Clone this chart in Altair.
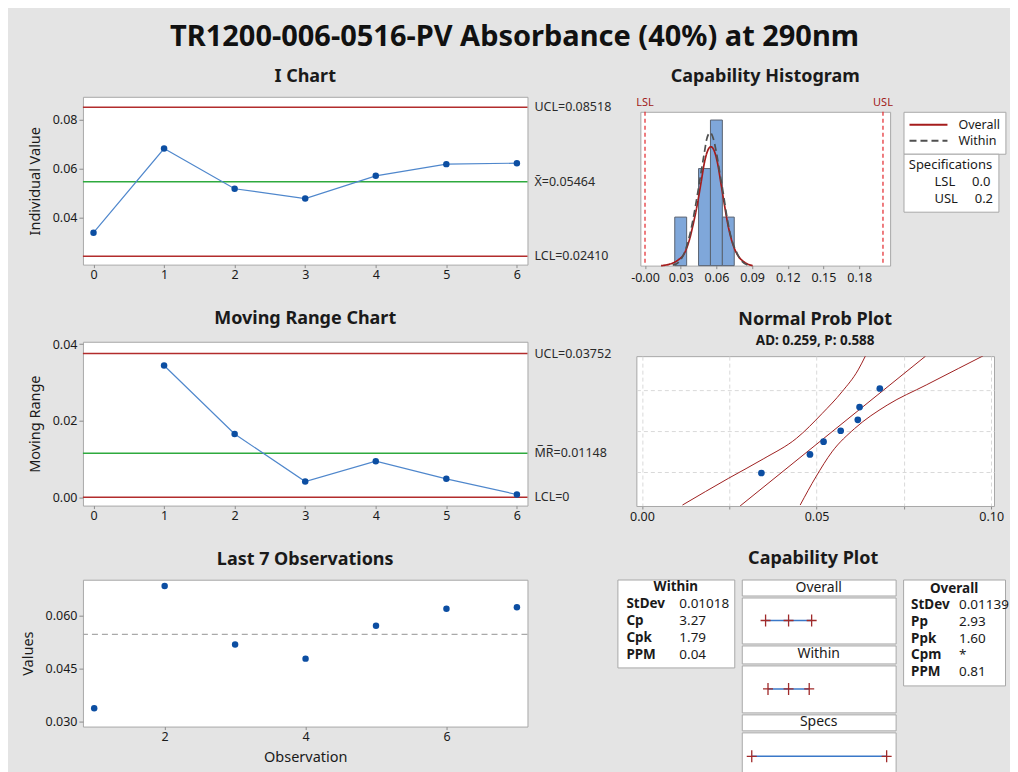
import altair as alt
import pandas as pd

FONT = "Noto Sans"
BG = "#e4e4e4"
TXT = "#1a1a1a"
PT_BLUE = "#0c4ea2"
LN_BLUE = "#4f87cc"
RED = "#b22c2c"
GREEN = "#2eaa3e"
BORDER = "#a8a8a8"
NB = "\u00a0"

main_title = "TR1200-006-0516-PV Absorbance (40%) at 290nm"

# ---------------- data ----------------
obs_index = [0, 1, 2, 3, 4, 5, 6]
obs_number = [1, 2, 3, 4, 5, 6, 7]
obs_values = [0.0338, 0.0683, 0.0518, 0.0478, 0.0571, 0.0619, 0.0623]

mr_index = [1, 2, 3, 4, 5, 6]
mr_values = [0.0344, 0.0165, 0.0041, 0.0094, 0.0048, 0.0007]

i_limit_names = ["UCL", "CL", "LCL"]
i_limit_values = [0.08518, 0.05464, 0.02410]
i_limit_labels = ["UCL=0.08518", "X\u0304=0.05464", "LCL=0.02410"]
mr_limit_values = [0.03752, 0.01148, 0.0]
mr_limit_labels = ["UCL=0.03752", "M\u0305R\u0305=0.01148", "LCL=0"]
obs_mean = 0.05464

bin_start = [0.025, 0.045, 0.055, 0.065]
bin_end = [0.035, 0.055, 0.065, 0.075]
bin_count = [1, 2, 3, 1]
hist_ticks = [0.0, 0.03, 0.06, 0.09, 0.12, 0.15, 0.18]

overall_x = [0.0135, 0.0206, 0.0275, 0.0332, 0.0374, 0.0401, 0.0437, 0.0471, 0.0499, 0.0527,
             0.0553, 0.0581, 0.0609, 0.0637, 0.0667, 0.0697, 0.0737, 0.0783, 0.0830, 0.0905]
overall_y = [0.0, 0.03, 0.11, 0.26, 0.54, 0.81, 1.23, 1.71, 2.12, 2.37,
             2.45, 2.37, 2.12, 1.71, 1.26, 0.84, 0.45, 0.20, 0.08, 0.0]
within_x = [0.0233, 0.0290, 0.0345, 0.0387, 0.0443, 0.0471, 0.0499, 0.0519, 0.0547,
            0.0575, 0.0600, 0.0628, 0.0657, 0.0690, 0.0727, 0.0765, 0.0807, 0.0863]
within_y = [0.01, 0.09, 0.36, 0.75, 1.50, 1.92, 2.33, 2.61, 2.74,
            2.61, 2.33, 1.92, 1.50, 0.98, 0.55, 0.30, 0.11, 0.01]

spec_names = ["LSL", "USL"]
spec_values = [0.0, 0.2]

npp_x = [0.0342, 0.0481, 0.0520, 0.0569, 0.0618, 0.0623, 0.0681]
npp_z = [-1.31, -0.73, -0.33, 0.01, 0.35, 0.75, 1.33]
npp_grid_z = [-1.2816, 0.0, 1.2816]
upper_x = [0.0116, 0.0247, 0.0349, 0.0442, 0.0516, 0.0573, 0.0619, 0.0640]
upper_z = [-2.31, -1.48, -0.86, -0.23, 0.55, 1.23, 1.91, 2.35]
fit_x = [0.0281, 0.0812]
fit_z = [-2.34, 2.34]
lower_x = [0.0453, 0.0498, 0.0544, 0.0609, 0.0702, 0.0814, 0.0907, 0.0977]
lower_z = [-2.31, -1.43, -0.65, 0.08, 0.81, 1.44, 1.96, 2.35]

within_stat_names = ["StDev", "Cp", "Cpk", "PPM"]
within_stat_values = ["0.01018", "3.27", "1.79", "0.04"]
overall_stat_names = ["StDev", "Pp", "Ppk", "Cpm", "PPM"]
overall_stat_values = ["0.01139", "2.93", "1.60", "*", "0.81"]

cap_panels = ["Overall", "Within", "Specs"]
cap_lo = [0.0205, 0.0241, 0.0]
cap_mid = [0.0546, 0.0546, None]
cap_hi = [0.0888, 0.0852, 0.2]

# ---------------- helpers ----------------
def title(text, offset, size=18):
    return alt.TitleParams(text, fontSize=size, fontWeight="bold", anchor="middle",
                           frame="group", offset=offset, font=FONT, color=TXT)


def limit_layers(values, labels, width):
    df = pd.DataFrame({"name": i_limit_names, "value": values, "label": labels})
    reds = alt.Chart(df[df["name"] != "CL"]).mark_rule(color=RED, strokeWidth=1.5).encode(y="value:Q")
    green = alt.Chart(df[df["name"] == "CL"]).mark_rule(color=GREEN, strokeWidth=1.5).encode(y="value:Q")
    text = alt.Chart(df).mark_text(align="left", baseline="middle", fontSize=12.5, color="#2a2a2a").encode(
        y="value:Q", x=alt.value(width + 7), text="label:N")
    return [reds, green, text]


def indep(c):
    return c.resolve_scale(color="independent", strokeDash="independent", opacity="independent").resolve_legend(
        color="independent", strokeDash="independent", opacity="independent")


def spacer(w, h):
    # empty layout cell (no marks drawn)
    return alt.Chart(pd.DataFrame({"s": [""]})).mark_text().encode(text="s:N").properties(
        width=w, height=h, view=alt.ViewBackground(stroke="transparent", fill="transparent"))


LW = 445

# ---------------- I chart ----------------
i_df = pd.DataFrame({"x": obs_index, "y": obs_values})
ix = alt.X("x:Q", scale=alt.Scale(domain=[-0.15, 6.15], nice=False, zero=False),
           axis=alt.Axis(values=obs_index, format="d", title=None))
iy = alt.Y("y:Q", scale=alt.Scale(domain=[0.0207, 0.0895], nice=False, zero=False),
           axis=alt.Axis(values=[0.04, 0.06, 0.08], format=".2f", title="Individual Value",
                         titlePadding=10, tickSize=4, labelPadding=2))
i_line = alt.Chart(i_df).mark_line(color=LN_BLUE, strokeWidth=1.2).encode(ix, iy)
i_pts = alt.Chart(i_df).mark_circle(color=PT_BLUE, size=42, opacity=1).encode(x="x:Q", y="y:Q")
i_chart = alt.layer(*limit_layers(i_limit_values, i_limit_labels, LW), i_line, i_pts).properties(
    width=LW, height=168, title=title("I Chart", 10.7))

# ---------------- MR chart ----------------
mr_df = pd.DataFrame({"x": mr_index, "y": mr_values})
mx = alt.X("x:Q", scale=alt.Scale(domain=[-0.15, 6.15], nice=False, zero=False),
           axis=alt.Axis(values=obs_index, format="d", title=None))
my = alt.Y("y:Q", scale=alt.Scale(domain=[-0.0022, 0.0406], nice=False, zero=False),
           axis=alt.Axis(values=[0.0, 0.02, 0.04], format=".2f", title="Moving Range",
                         titlePadding=10, tickSize=4, labelPadding=2))
mr_line = alt.Chart(mr_df).mark_line(color=LN_BLUE, strokeWidth=1.2).encode(mx, my)
mr_pts = alt.Chart(mr_df).mark_circle(color=PT_BLUE, size=42, opacity=1).encode(x="x:Q", y="y:Q")
mr_chart = alt.layer(*limit_layers(mr_limit_values, mr_limit_labels, LW), mr_line, mr_pts).properties(
    width=LW, height=164, title=title("Moving Range Chart", 9.6))

# ---------------- Last 7 observations ----------------
l7_df = pd.DataFrame({"x": obs_number, "y": obs_values})
lx = alt.X("x:Q", scale=alt.Scale(domain=[0.84, 7.15], nice=False, zero=False),
           axis=alt.Axis(values=[2, 4, 6], format="d", title="Observation", titleFontSize=14.5, titlePadding=7))
ly = alt.Y("y:Q", scale=alt.Scale(domain=[0.0286, 0.0701], nice=False, zero=False),
           axis=alt.Axis(values=[0.03, 0.045, 0.06], format=".3f", title="Values",
                         titlePadding=10, tickSize=4, labelPadding=2))
l7_pts = alt.Chart(l7_df).mark_circle(color=PT_BLUE, size=42, opacity=1).encode(lx, ly)
l7_mean = alt.Chart(pd.DataFrame({"y": [obs_mean]})).mark_rule(
    color="#a9a9a9", strokeDash=[6, 4], strokeWidth=1.3).encode(y="y:Q")
l7_chart = alt.layer(l7_mean, l7_pts).properties(width=LW, height=147, title=title("Last 7 Observations", 10.5))

# ---------------- Capability histogram ----------------
hist_df = pd.DataFrame({"x": bin_start, "x2": bin_end, "y": bin_count})
hx = alt.X("x:Q", scale=alt.Scale(domain=[-0.0039, 0.2060], nice=False, zero=False),
           axis=alt.Axis(values=hist_ticks, title=None, labelPadding=3,
                         labelExpr="datum.value == 0 ? '-0.00' : format(datum.value, '.2f')"))
hy = alt.Y("y:Q", scale=alt.Scale(domain=[0, 3.17], nice=False, zero=False), axis=None)
bars = alt.Chart(hist_df).mark_rect(fill="#7fa7da", stroke="#596270", strokeWidth=1).encode(
    hx, hy, x2="x2:Q", y2=alt.datum(0))

curve_df = pd.concat([
    pd.DataFrame({"x": overall_x, "y": overall_y, "curve": "Overall"}),
    pd.DataFrame({"x": within_x, "y": within_y, "curve": "Within"}),
])
curve_legend = alt.Legend(title=None, orient="none", legendX=263.4, legendY=0,
                          fillColor="white", strokeColor=BORDER, padding=5, cornerRadius=0,
                          symbolType="stroke", symbolSize=1444, symbolStrokeWidth=2,
                          labelFontSize=12.5, labelFont=FONT, labelColor=TXT, labelOffset=10,
                          rowPadding=0, clipHeight=16)
curves = alt.Chart(curve_df).mark_line(strokeWidth=1.7, interpolate="monotone").encode(
    x="x:Q", y="y:Q",
    color=alt.Color("curve:N", scale=alt.Scale(domain=["Overall", "Within"], range=["#a51c1c", "#505050"]),
                    legend=curve_legend),
    strokeDash=alt.StrokeDash("curve:N", scale=alt.Scale(domain=["Overall", "Within"], range=[[1, 0], [7, 4]]),
                              legend=curve_legend),
)

spec_df = pd.DataFrame({"x": spec_values, "name": spec_names,
                        "label": [f"{n}{NB * 5}{v:.1f}" for n, v in zip(spec_names, spec_values)]})
spec_legend = alt.Legend(title="Specifications", orient="none", legendX=263.4, legendY=42,
                         fillColor="white", strokeColor=BORDER, padding=5, cornerRadius=0,
                         titleFontSize=13, titleFontWeight="normal", titleFont=FONT, titleColor=TXT,
                         titleAnchor="middle", titlePadding=4,
                         labelFontSize=13, labelFont=FONT, labelColor=TXT, labelOffset=13,
                         symbolSize=0, symbolStrokeWidth=0, symbolOpacity=0, rowPadding=3)
spec_rules = alt.Chart(spec_df).mark_rule(color="#e3262b", strokeDash=[4, 3], strokeWidth=1.2).encode(
    x="x:Q",
    opacity=alt.Opacity("label:N", scale=alt.Scale(domain=list(spec_df["label"]), range=[1, 1]),
                        legend=spec_legend))
spec_text = alt.Chart(spec_df).mark_text(color="#a01818", fontSize=11, dy=-9).encode(
    x="x:Q", y=alt.datum(3.17), text="name:N")

hist_chart = alt.layer(bars, curves, spec_rules, spec_text).properties(
    width=250, height=154, title=title("Capability Histogram", 10.8))

# ---------------- Normal probability plot ----------------
nx = alt.X("x:Q", scale=alt.Scale(domain=[-0.0016, 0.1008], nice=False, zero=False),
           axis=alt.Axis(values=[0.0, 0.025, 0.05, 0.075, 0.1], title=None, grid=True, labelPadding=1.6,
                         gridDash=[4, 3], gridColor="#d9d9d9",
                         labelExpr="indexof(['0.00','0.05','0.10'], format(datum.value,'.2f')) >= 0 ? format(datum.value,'.2f') : ''"))
ny = alt.Y("z:Q", scale=alt.Scale(domain=[-2.34, 2.34], nice=False, zero=False),
           axis=alt.Axis(values=npp_grid_z, labels=False, ticks=False, grid=True, title=None,
                         gridDash=[4, 3], gridColor="#d9d9d9"))
band_df = pd.concat([
    pd.DataFrame({"x": upper_x, "z": upper_z, "line": "upper"}),
    pd.DataFrame({"x": fit_x, "z": fit_z, "line": "fit"}),
    pd.DataFrame({"x": lower_x, "z": lower_z, "line": "lower"}),
])
npp_lines = alt.Chart(band_df).mark_line(color="#9e2020", strokeWidth=1, interpolate="monotone", clip=True).encode(
    nx, ny, detail="line:N")
npp_pts = alt.Chart(pd.DataFrame({"x": npp_x, "z": npp_z})).mark_circle(
    color=PT_BLUE, size=45, opacity=1).encode(x="x:Q", y="z:Q")
npp_chart = alt.layer(npp_lines, npp_pts).properties(
    width=358, height=150,
    title=alt.TitleParams("Normal Prob Plot", subtitle="AD: 0.259, P: 0.588", fontSize=18, fontWeight="bold",
                          subtitleFontSize=13.5, subtitleFontWeight="bold", subtitleColor=TXT,
                          subtitlePadding=4.2, anchor="middle", frame="group", offset=9.1, font=FONT,
                          subtitleFont=FONT, color=TXT))

# ---------------- Capability plot ----------------
def stats_box(header, names, vals, width, height, y_domain, cols):
    n = len(names)
    rows = list(range(1, n + 1))
    ys = alt.Y("row:Q", scale=alt.Scale(domain=y_domain, reverse=True, nice=False, zero=False), axis=None)
    xs = alt.X("col:N", scale=alt.Scale(domain=["name", "value"], range=cols, padding=0), axis=None)
    hdr = alt.Chart(pd.DataFrame({"row": [0], "text": [header]})).mark_text(
        fontSize=13.5, fontWeight="bold", color=TXT).encode(y=ys, text="text:N")
    nm = alt.Chart(pd.DataFrame({"row": rows, "col": ["name"] * n, "text": names})).mark_text(
        align="left", fontSize=13.5, fontWeight="bold", color=TXT).encode(x=xs, y="row:Q", text="text:N")
    vl = alt.Chart(pd.DataFrame({"row": rows, "col": ["value"] * n, "text": vals})).mark_text(
        align="left", fontSize=13.5, color=TXT).encode(x="col:N", y="row:Q", text="text:N")
    return alt.layer(hdr, nm, vl).properties(width=width, height=height)


within_box = stats_box("Within", within_stat_names, within_stat_values, 117, 88, [-0.47, 4.77], [9, 62])
overall_box = stats_box("Overall", overall_stat_names, overall_stat_values, 102, 106, [-0.54, 5.81], [8, 56])

CAP_W = 154
PLUS = "M-1,0H1M0,-1.2V1.2"


def cap_header(text, h):
    return alt.Chart(pd.DataFrame({"t": [text]})).mark_text(fontSize=14, color=TXT).encode(
        x=alt.X("t:N", axis=None), y=alt.Y("t:N", axis=None), text="t:N").properties(width=CAP_W, height=h)


def cap_body(i, h):
    seg = pd.DataFrame({"panel": [cap_panels[i]], "lo": [cap_lo[i]], "hi": [cap_hi[i]]})
    pts = [v for v in (cap_lo[i], cap_mid[i], cap_hi[i]) if v is not None]
    mk = pd.DataFrame({"panel": [cap_panels[i]] * len(pts), "lo": pts})
    xs = alt.X("lo:Q", scale=alt.Scale(domain=[-0.0148, 0.2133], nice=False, zero=False), axis=None)
    ys = alt.Y("panel:N", axis=None)
    rule = alt.Chart(seg).mark_rule(color="#3a78c8", strokeWidth=1.5).encode(xs, ys, x2="hi:Q")
    cross = alt.Chart(mk).mark_point(shape=PLUS, filled=False, color="#a02a2a", size=100,
                                     strokeWidth=1.3, opacity=1).encode(x="lo:Q", y="panel:N")
    return alt.layer(rule, cross).properties(width=CAP_W, height=h)


cap_center = alt.vconcat(
    cap_header("Overall", 16), cap_body(0, 46),
    cap_header("Within", 18), cap_body(1, 47),
    cap_header("Specs", 16), cap_body(2, 48),
    spacing=0)

cap_block = indep(alt.hconcat(within_box, cap_center, overall_box, spacing=5.5)).properties(
    title=alt.TitleParams("Capability Plot", fontSize=18, fontWeight="bold", anchor="middle",
                          offset=11.3, font=FONT, color=TXT))

# ---------------- assemble ----------------
left_col = indep(alt.vconcat(alt.vconcat(spacer(1, 1), i_chart, spacing=0), mr_chart, l7_chart, spacing=28.2))

hist_cell = indep(alt.vconcat(spacer(1, 1), indep(alt.hconcat(spacer(10.6, 1), hist_chart, spacing=0)), spacing=0))
npp_cell = indep(alt.hconcat(spacer(10, 1), npp_chart, spacing=0))
right_col = indep(alt.vconcat(hist_cell, npp_cell, cap_block, spacing=25.6))

chart = indep(alt.hconcat(left_col, right_col, spacing=4)).properties(
    title=alt.TitleParams(main_title, fontSize=29, fontWeight="bold", anchor="middle", offset=2.5,
                          font=FONT, color="#111111"),
    background=BG,
    padding={"left": 11, "top": 14.5, "right": 0, "bottom": 12},
).configure_view(
    fill="white", stroke=BORDER, strokeWidth=1
).configure_axis(
    labelFont=FONT, labelFontSize=12.5, labelColor=TXT, titleFont=FONT, titleFontSize=14.5,
    titleFontWeight="normal", titleColor=TXT, domain=False, tickColor="#8c8c8c", tickSize=3,
    labelPadding=1, grid=False
).configure_text(font=FONT)

chart.save("out.html", embed_options={"renderer": "svg", "actions": False})
